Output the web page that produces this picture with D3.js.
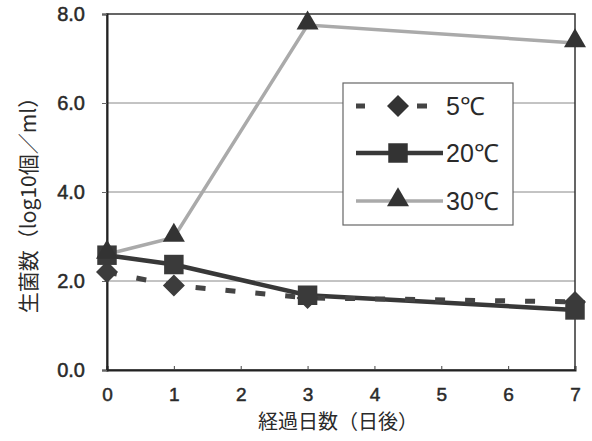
<!DOCTYPE html>
<html><head><meta charset="utf-8">
<script src="https://cdn.jsdelivr.net/npm/d3@7"></script>
<style>body{margin:0;background:#fff}</style>
</head><body>
<script>
const days = [0, 1, 3, 7];
const xTicks = [0, 1, 2, 3, 4, 5, 6, 7];
const yTicks = [0, 2, 4, 6, 8];
const s5 = [2.2, 1.9, 1.62, 1.53];
const s20 = [2.58, 2.37, 1.68, 1.35];
const s30 = [2.6, 2.98, 7.75, 7.35];
const seriesNames = ["5℃", "20℃", "30℃"];

const W = 592, H = 441;
const m = {left: 107, right: 17, top: 14, bottom: 71};
const svg = d3.select("body").append("svg").attr("width", W).attr("height", H);
const x = d3.scaleLinear().domain([0, 7]).range([m.left, W - m.right]);
const y = d3.scaleLinear().domain([0, 8]).range([H - m.bottom, m.top]);
const font = "'Liberation Sans', Arial, sans-serif";
const cjk = "'Noto Sans CJK JP', sans-serif";

// gridlines
svg.append("g").selectAll("line").data(yTicks.filter(d => d > 0 && d < 8)).join("line")
  .attr("x1", x(0)).attr("x2", x(7)).attr("y1", d => y(d)).attr("y2", d => y(d))
  .attr("stroke", "#888").attr("stroke-width", 1);

// frame
svg.append("rect").attr("x", x(0)).attr("y", y(8)).attr("width", x(7) - x(0)).attr("height", y(0) - y(8))
  .attr("fill", "none").attr("stroke", "#333").attr("stroke-width", 1.5);

// axes
const xAxis = d3.axisBottom(x).tickValues(xTicks).tickSize(-4).tickPadding(18).tickFormat(d3.format("d"));
const gx = svg.append("g").attr("transform", `translate(0,${y(0)})`).call(xAxis);
gx.select(".domain").attr("stroke", "#222").attr("stroke-width", 2);
gx.selectAll(".tick line").attr("stroke", "#444");
gx.selectAll("text").attr("font-family", font).attr("font-size", 19).attr("fill", "#2a2a2a")
  .attr("stroke", "#2a2a2a").attr("stroke-width", 0.5);

const yAxis = d3.axisLeft(y).tickValues(yTicks).tickSize(5).tickPadding(17).tickFormat(d3.format(".1f"));
const gy = svg.append("g").attr("transform", `translate(${x(0)},0)`).call(yAxis);
gy.select(".domain").attr("stroke", "#222").attr("stroke-width", 2);
gy.selectAll(".tick line").attr("stroke", "#666");
gy.selectAll("text").attr("font-family", font).attr("font-size", 20).attr("fill", "#2a2a2a")
  .attr("stroke", "#2a2a2a").attr("stroke-width", 0.5);

// axis titles
svg.append("text").attr("x", 338).attr("y", 429).attr("text-anchor", "middle")
  .attr("font-family", cjk).attr("font-size", 20).attr("fill", "#2a2a2a")
  .text("経過日数（日後）");
svg.append("text").attr("transform", `translate(36,200) rotate(-90)`).attr("text-anchor", "middle")
  .attr("font-family", cjk).attr("font-size", 21).attr("fill", "#2a2a2a")
  .text("生菌数（log10個／ml）");

const line = d3.line().x((d, i) => x(days[i])).y(d => y(d));

// 30C
svg.append("path").datum(s30).attr("d", line).attr("fill", "none").attr("stroke", "#aaaaaa").attr("stroke-width", 3.5);
// 20C
svg.append("path").datum(s20).attr("d", line).attr("fill", "none").attr("stroke", "#383838").attr("stroke-width", 4.5);
// 5C
svg.append("path").datum(s5).attr("d", line).attr("fill", "none").attr("stroke", "#444").attr("stroke-width", 5)
  .attr("stroke-dasharray", "10,20");

const dia = "M0,-11L11,0L0,11L-11,0Z";
const sq = d3.symbol().type(d3.symbolSquare).size(380)();
const tri = d3.symbol().type(d3.symbolTriangle).size(210)();

svg.append("g").selectAll("path").data(s5).join("path").attr("d", dia)
  .attr("transform", (d, i) => `translate(${x(days[i])},${y(d)})`).attr("fill", "#3c3c3c");
svg.append("g").selectAll("path").data(s20).join("path").attr("d", sq)
  .attr("transform", (d, i) => `translate(${x(days[i])},${y(d)})`).attr("fill", "#3a3a3a");
svg.append("g").selectAll("path").data(s30).join("path").attr("d", tri)
  .attr("transform", (d, i) => `translate(${x(days[i])},${y(d) - 2})`).attr("fill", "#333");

// legend
const lg = svg.append("g");
lg.append("rect").attr("x", 343).attr("y", 83).attr("width", 170).attr("height", 142)
  .attr("fill", "#fff").attr("stroke", "#666").attr("stroke-width", 1.2);
const ly = [106, 153, 201];
const lstyles = [
  {stroke: "#444", w: 5, dash: true, sym: dia},
  {stroke: "#383838", w: 4.5, dash: false, sym: sq},
  {stroke: "#aaaaaa", w: 3.5, dash: false, sym: tri}
];
seriesNames.forEach((n, i) => {
  const st = lstyles[i];
  const l = lg.append("line").attr("x1", 356).attr("x2", 443).attr("y1", ly[i]).attr("y2", ly[i])
    .attr("stroke", st.stroke).attr("stroke-width", st.w);
  if (st.dash) l.attr("stroke-dasharray", "9,52,10,20");
  lg.append("path").attr("d", st.sym).attr("transform", `translate(398,${ly[i] - (i === 2 ? 1 : 0)})`).attr("fill", "#333");
  lg.append("text").attr("x", 446).attr("y", ly[i] + 9).attr("font-family", font).attr("font-size", 25)
    .attr("fill", "#2a2a2a").text(n);
});
</script>
</body></html>
